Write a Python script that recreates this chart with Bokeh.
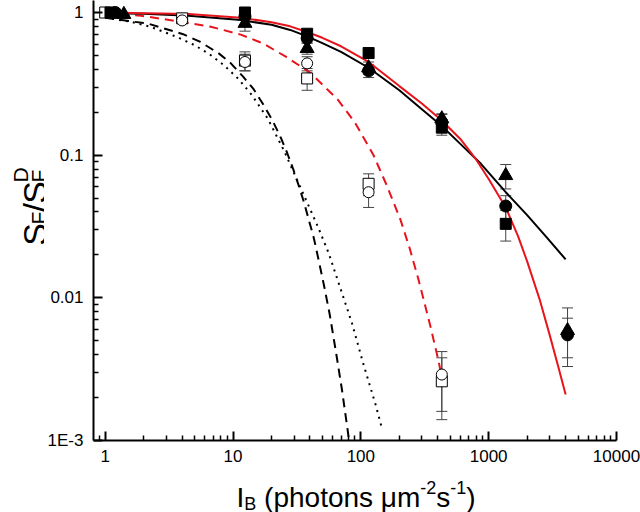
import math
from bokeh.plotting import figure
from bokeh.layouts import column, row
from bokeh.models import ColumnDataSource, Whisker, TeeHead, FixedTicker
from bokeh.embed import file_html
from bokeh.resources import INLINE
from bokeh.core.properties import value

# ---------------- data ----------------
# filled squares
fsq_x = [1.1, 12.4, 38, 115, 430, 1360]
fsq_y = [1.0, 1.0, 0.71, 0.52, 0.156, 0.033]
fsq_err = [0.02, 0.03, 0.04, 0.03, 0.018, 0.008]
# filled circles
fci_x = [1.2, 12.4, 38, 115, 430, 1360, 4140]
fci_y = [1.0, 0.94, 0.66, 0.39, 0.17, 0.044, 0.0055]
fci_err = [0.02, 0.04, 0.05, 0.04, 0.023, 0.008, 0.0017]
# filled triangles
ftr_x = [1.4, 12.4, 38, 115, 430, 1360, 4140]
ftr_y = [0.97, 0.84, 0.56, 0.41, 0.18, 0.072, 0.0059]
ftr_err = [0.02, 0.1, 0.05, 0.04, 0.015, 0.014, 0.0026]
# open squares
osq_x = [1.0, 4.0, 12.4, 38, 115, 430]
osq_y = [1.0, 0.91, 0.46, 0.345, 0.063, 0.0026]
osq_err = [0.02, 0.03, 0.07, 0.06, 0.011, 0.0012]
# open circles
oci_x = [4.0, 12.4, 38, 115, 430]
oci_y = [0.88, 0.45, 0.44, 0.055, 0.0029]
oci_err = [0.03, 0.06, 0.05, 0.012, 0.0013]

# fitted curves
black_solid_x = [1, 2, 4.5, 11.5, 20, 28, 38, 50, 70, 115, 200, 300, 430, 600, 870, 1360, 2000, 2800, 4000]
black_solid_y = [0.99, 0.98, 0.95, 0.885, 0.82, 0.755, 0.68, 0.61, 0.53, 0.41, 0.285, 0.21, 0.16, 0.12, 0.087, 0.055, 0.038, 0.027, 0.0186]

red_solid_x = [1, 4.5, 11.5, 20, 28, 38, 50, 70, 115, 200, 300, 430, 600, 800, 1000, 1360, 1700, 2000, 2500, 3000, 3500, 4000]
red_solid_y = [1.0, 0.975, 0.92, 0.855, 0.80, 0.73, 0.665, 0.58, 0.45, 0.305, 0.23, 0.175, 0.13, 0.093, 0.068, 0.043, 0.027, 0.018, 0.0098, 0.0055, 0.0033, 0.0021]

red_dash_x = [1, 1.9, 3.9, 6.7, 11.5, 17, 25.9, 40, 66, 90, 126, 160, 205, 240, 284, 352, 400, 430]
red_dash_y = [0.985, 0.95, 0.862, 0.795, 0.70, 0.61, 0.49, 0.38, 0.245, 0.169, 0.0995, 0.061, 0.0349, 0.0225, 0.0132, 0.0062, 0.0038, 0.0028]

black_dash_x = [1, 2.17, 4.07, 5.5, 7.78, 9.5, 12, 14.5, 17.5, 20.5, 23.7, 26.5, 29.4, 32.5, 35.9, 39, 42.9, 47, 51.4, 57, 63.8, 71, 79.1, 82]
black_dash_y = [0.918, 0.835, 0.705, 0.625, 0.515, 0.445, 0.355, 0.29, 0.222, 0.173, 0.132, 0.104, 0.081, 0.062, 0.0468, 0.0357, 0.0262, 0.018, 0.0123, 0.0077, 0.0042, 0.0023, 0.00116, 0.0009]

black_dot_x = [1, 1.6, 2.3, 3.7, 5, 6.5, 8.5, 11, 14, 18.8, 25, 35, 46, 56, 70, 85, 104, 115, 131, 146]
black_dot_y = [0.92, 0.86, 0.79, 0.67, 0.59, 0.513, 0.427, 0.343, 0.265, 0.179, 0.108, 0.055, 0.0317, 0.0206, 0.0113, 0.0067, 0.0035, 0.0026, 0.00176, 0.00122]

x_ticks = [1, 10, 100, 1000, 10000]
x_tick_labels = ["1", "10", "100", "1000", "10000"]
y_ticks = [0.001, 0.01, 0.1, 1]
y_tick_labels = ["1E-3", "0.01", "0.1", "1"]

FONT = "Liberation Sans"

# ---------------- main figure ----------------
p = figure(width=596, height=470, x_axis_type="log", y_axis_type="log",
           x_range=(0.81, 10001), y_range=(0.001, 1.214), title=None,
           output_backend="svg", toolbar_location=None,
           min_border_left=48, min_border_right=24,
           min_border_top=0, min_border_bottom=30)
p.outline_line_color = None
p.xgrid.visible = False
p.ygrid.visible = False

x_minor = [m * 10 ** k for k in range(-1, 4) for m in range(2, 10)]
y_minor = [m * 10 ** k for k in range(-3, 0) for m in range(2, 10)]
p.xaxis.ticker = FixedTicker(ticks=x_ticks, minor_ticks=x_minor)
p.yaxis.ticker = FixedTicker(ticks=y_ticks, minor_ticks=y_minor)
p.xaxis.major_label_overrides = dict(zip(x_ticks, x_tick_labels))
p.yaxis.major_label_overrides = dict(zip(y_ticks, y_tick_labels))

for ax in (p.xaxis, p.yaxis):
    ax.axis_line_width = 2
    ax.axis_line_color = "black"
    ax.major_tick_in = 9
    ax.major_tick_out = 0
    ax.minor_tick_in = 5
    ax.minor_tick_out = 0
    ax.major_tick_line_width = 2
    ax.minor_tick_line_width = 1.5
    ax.major_tick_line_color = "black"
    ax.minor_tick_line_color = "black"
    ax.major_label_text_font = FONT
    ax.major_label_text_font_size = "17px"
    ax.major_label_text_color = "black"
p.xaxis.major_label_standoff = 9
p.yaxis.major_label_standoff = 10

RED = "#e8141c"
# curves
p.line(black_dash_x, black_dash_y, line_color="black", line_width=2, line_dash="9 6")
p.line(black_dot_x, black_dot_y, line_color="black", line_width=2, line_dash="2 5")
p.line(red_dash_x, red_dash_y, line_color=RED, line_width=2, line_dash="9 6")
p.line(black_solid_x, black_solid_y, line_color="black", line_width=2)
p.line(red_solid_x, red_solid_y, line_color=RED, line_width=2)

# error bars
def add_err(xs, ys, es):
    src = ColumnDataSource(dict(x=xs, upper=[y + e for y, e in zip(ys, es)],
                                lower=[y - e for y, e in zip(ys, es)]))
    w = Whisker(source=src, base="x", upper="upper", lower="lower", dimension="height",
                line_color="#444444", line_width=1,
                upper_head=TeeHead(size=11, line_color="#444444", line_width=1),
                lower_head=TeeHead(size=11, line_color="#444444", line_width=1))
    p.add_layout(w)

for xs, ys, es in [(osq_x, osq_y, osq_err), (oci_x, oci_y, oci_err),
                   (fsq_x, fsq_y, fsq_err), (fci_x, fci_y, fci_err),
                   (ftr_x, ftr_y, ftr_err)]:
    add_err(xs, ys, es)

# markers
p.scatter(osq_x, osq_y, marker="square", size=11, fill_color="white", line_color="black", line_width=1)
p.scatter(oci_x, oci_y, marker="circle", size=11, fill_color="white", line_color="black", line_width=1)
p.scatter(fsq_x, fsq_y, marker="square", size=11, fill_color="black", line_color="black")
p.scatter(fci_x, fci_y, marker="circle", size=12, fill_color="black", line_color="black")
p.scatter(ftr_x, ftr_y, marker="triangle", size=14, fill_color="black", line_color="black")

# ---------------- axis titles (separate panels, pixel coordinates) ----------------
def blank(w, h, xr, yr):
    f = figure(width=w, height=h, x_range=xr, y_range=yr, title=None,
               x_axis_location=None, y_axis_location=None,
               toolbar_location=None, output_backend="svg", min_border=0)
    f.outline_line_color = None
    f.grid.visible = False
    return f

def put(f, x, y, t, size, angle=0.0):
    f.text(x=[x], y=[y], text=[t], angle=angle, text_font=value(FONT),
           text_font_size=f"{size}px", text_color="black",
           text_align="left", text_baseline="alphabetic")

# y title  S_F / S_F^D  (rotated, reads bottom to top)
ylab = blank(44, 470, (0, 44), (470, 0))
a = math.pi / 2
bx, by = 34, 262
put(ylab, bx, by, "S", 34, a)
put(ylab, bx + 4, by - 22.7, "F", 21, a)
put(ylab, bx, by - 35.5, "/", 34, a)
put(ylab, bx, by - 45, "S", 34, a)
put(ylab, bx + 4, by - 67.7, "F", 21, a)
put(ylab, bx - 14, by - 67.7, "D", 21, a)

# x title  I_B (photons μm^-2 s^-1)
xlab = blank(640, 42, (0, 640), (512, 470))
sx, sy = 236, 497
put(xlab, sx, sy, "I", 28)
put(xlab, sx + 7.8, sy + 6, "B", 18)
put(xlab, sx + 27.6, sy, "(photons \u03bcm", 28)
put(xlab, sx + 183.8, sy - 10, "-2", 18)
put(xlab, sx + 199.8, sy, "s", 28)
put(xlab, sx + 213.8, sy - 10, "-1", 18)
put(xlab, sx + 229.8, sy, ")", 28)

layout = column(row(ylab, p, spacing=0), xlab, spacing=0)
open("out.html", "w").write(file_html(layout, INLINE))
